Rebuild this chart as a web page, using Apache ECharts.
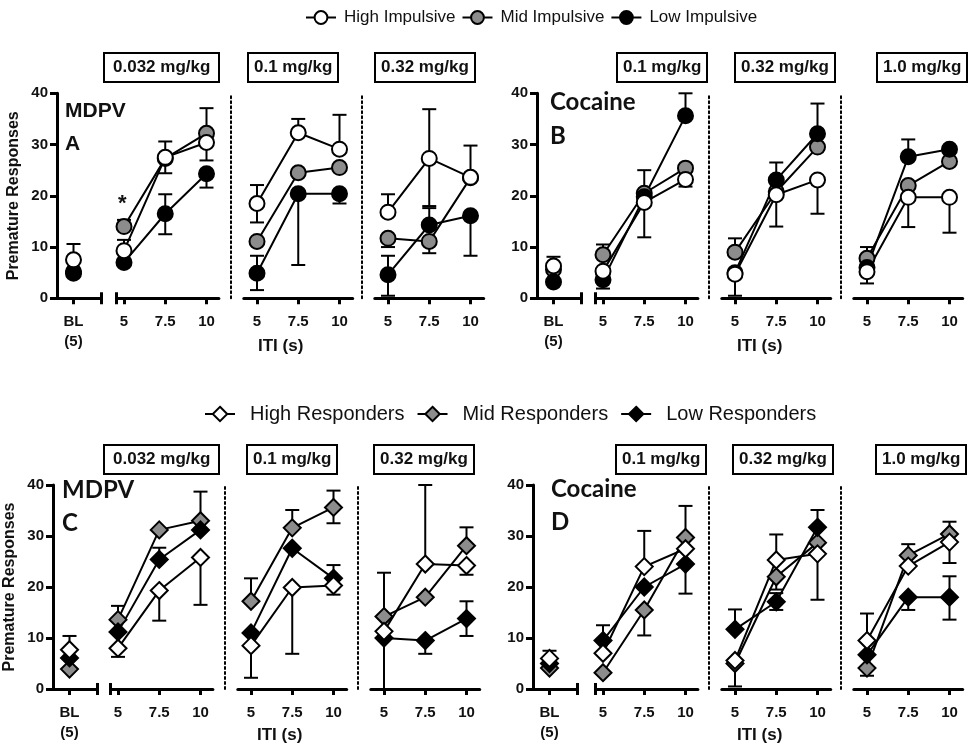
<!DOCTYPE html>
<html><head><meta charset="utf-8">
<script src="https://cdn.jsdelivr.net/npm/echarts@6/dist/echarts.min.js"></script>
<style>html,body{margin:0;padding:0;background:#fff}#c{width:975px;height:749px}</style>
</head><body><div id="c"></div>
<script>
// ---------------- DATA ----------------
const itiValues = [5, 7.5, 10];
const blTickLabel = 'BL\n(5)';
const itiAxisTitle = 'ITI (s)';
const yAxisTitle = 'Premature Responses';
const mdpvDoses = ['0.032 mg/kg', '0.1 mg/kg', '0.32 mg/kg'];
const cocaineDoses = ['0.1 mg/kg', '0.32 mg/kg', '1.0 mg/kg'];
const impulsiveNames = ['High Impulsive', 'Mid Impulsive', 'Low Impulsive'];
const responderNames = ['High Responders', 'Mid Responders', 'Low Responders'];

// each array: [BL, dose1@5, dose1@7.5, dose1@10, dose2@5, dose2@7.5, dose2@10, dose3@5, dose3@7.5, dose3@10]
// *_hi / *_lo : end of the upper / lower error whisker (null = not drawn)
// Panel A: MDPV, impulsivity groups
const A_high    = [7.5, 9.3, 27.5, 30.4, 18.5, 32.3, 29.1, 16.8, 27.3, 23.6];
const A_high_hi = [10.6, 11.4, 30.6, null, 22.1, 35.0, 35.8, 20.3, 36.9, 29.8];
const A_high_lo = [null, null, null, 26.9, 14.8, null, null, null, 18.0, null];
const A_mid     = [5.2, 14.0, 27.3, 32.2, 11.1, 24.5, 25.5, 11.7, 11.1, 23.5];
const A_mid_hi  = [null, 15.3, null, 37.1, null, null, null, null, null, null];
const A_mid_lo  = [null, null, 24.4, null, null, null, null, 10.0, 8.8, null];
const A_low     = [4.9, 7.0, 16.5, 24.3, 4.9, 20.4, 20.4, 4.6, 14.3, 16.1];
const A_low_hi  = [null, null, 20.3, null, 8.3, null, null, 8.3, 17.6, null];
const A_low_lo  = [null, null, 12.5, 21.6, 1.6, 6.5, 18.5, 0.5, null, 8.3];
// Panel B: Cocaine, impulsivity groups
const B_high    = [6.3, 5.3, 18.7, 23.2, 4.7, 20.2, 23.1, 5.2, 19.7, 19.7];
const B_high_hi = [8.1, null, null, null, null, null, null, null, null, null];
const B_high_lo = [null, null, 11.9, 21.8, 0.5, 14.0, 16.5, 2.9, 13.9, 12.8];
const B_mid     = [5.6, 8.5, 20.5, 25.4, 9.0, 20.8, 29.5, 7.8, 22.0, 26.7];
const B_mid_hi  = [null, 10.5, 25.0, null, 11.7, null, null, 10.0, null, null];
const B_mid_lo  = [null, null, null, null, null, null, null, null, null, null];
const B_low     = [3.2, 3.6, 19.8, 35.6, 5.0, 23.1, 32.1, 6.0, 27.6, 29.1];
const B_low_hi  = [null, null, null, 40.0, null, 26.5, 38.0, null, 31.0, null];
const B_low_lo  = [null, 1.9, null, null, null, null, null, null, null, null];
// Panel C: MDPV, responder groups
const C_high    = [7.7, 8.0, 19.3, 25.8, 8.5, 19.9, 20.3, 11.3, 24.5, 24.2];
const C_high_hi = [10.4, null, null, null, null, null, null, null, 40.0, null];
const C_high_lo = [null, 6.3, 13.4, 16.5, 2.2, 6.9, 18.5, null, null, 22.4];
const C_mid     = [3.9, 13.6, 31.2, 33.0, 17.2, 31.6, 35.6, 14.2, 18.0, 28.1];
const C_mid_hi  = [null, 16.3, null, 38.7, 21.7, 35.1, 38.9, 22.8, null, 31.7];
const C_mid_lo  = [null, null, null, null, null, null, 32.5, null, null, null];
const C_low     = [6.1, 11.2, 25.4, 31.2, 11.0, 27.6, 21.7, 10.0, 9.5, 13.8];
const C_low_hi  = [null, null, 27.7, null, null, null, 24.3, null, null, 17.2];
const C_low_lo  = [null, null, null, null, null, null, null, 0.0, 6.9, 10.4];
// Panel D: Cocaine, responder groups
const D_high    = [6.0, 7.0, 24.0, 27.5, 5.6, 25.3, 26.5, 9.5, 24.1, 28.8];
const D_high_hi = [7.5, null, 31.0, null, null, 30.3, null, 14.8, null, null];
const D_high_lo = [null, null, null, null, null, null, 17.5, null, null, 24.7];
const D_mid     = [4.1, 3.2, 15.5, 29.7, 5.0, 22.0, 28.7, 4.1, 26.2, 30.4];
const D_mid_hi  = [null, null, null, 35.9, null, null, null, null, 28.4, 32.8];
const D_mid_lo  = [null, null, 10.5, null, 0.5, 19.5, null, 2.6, null, null];
const D_low     = [5.0, 9.5, 20.0, 24.5, 11.7, 17.1, 31.7, 6.7, 18.0, 18.0];
const D_low_hi  = [null, 12.5, null, null, 15.6, 18.8, 35.1, null, null, 22.1];
const D_low_lo  = [null, null, null, 18.7, null, 15.5, null, null, 15.5, 13.6];

// ---------------- STYLE / LAYOUT ----------------
const FONT = '"Liberation Sans", Arial, Helvetica, sans-serif';
const FONT2 = 'Lato, Carlito, Calibri, sans-serif';
const INK = '#000';
const TXT = '#111';
const FILLS = ['#ffffff', '#8c8c8c', '#000000'];   // high, mid, low
const DRAW_ORDER = [1, 2, 0];                        // mid, low, high (high on top)
const PX_PER_UNIT = 16.5;
const ROWS = [
  { top: 93.3, h: 205, boxTop: 53, itiTop: 338 },
  { top: 485, h: 204, boxTop: 445, itiTop: 727 }
];
const PANELS = [
  { row: 0, drug: 'MDPV', letter: 'A', dFont: FONT, dSize: 21, dTop: 101, lTop: 134, tLeft: 65,
    doses: mdpvDoses, names: impulsiveNames, symbol: 'circle', size: 15,
    groups: [[A_high, A_high_hi, A_high_lo], [A_mid, A_mid_hi, A_mid_lo], [A_low, A_low_hi, A_low_lo]],
    blLeft: 57, x5: [124, 257, 388], boxLeft: [104, 248, 375], yName: true, itiLeft: 258 },
  { row: 0, drug: 'Cocaine', letter: 'B', dFont: FONT2, dSize: 24, dTop: 90, lTop: 124, tLeft: 550,
    doses: cocaineDoses, names: impulsiveNames, symbol: 'circle', size: 15,
    groups: [[B_high, B_high_hi, B_high_lo], [B_mid, B_mid_hi, B_mid_lo], [B_low, B_low_hi, B_low_lo]],
    blLeft: 537, x5: [603, 735, 867], boxLeft: [617, 735, 877], yName: false, itiLeft: 737 },
  { row: 1, drug: 'MDPV', letter: 'C', dFont: FONT2, dSize: 24, dTop: 478, lTop: 511, tLeft: 62,
    doses: mdpvDoses, names: responderNames, symbol: 'diamond', size: 17,
    groups: [[C_high, C_high_hi, C_high_lo], [C_mid, C_mid_hi, C_mid_lo], [C_low, C_low_hi, C_low_lo]],
    blLeft: 53, x5: [118, 251, 384], boxLeft: [104, 247, 374], yName: true, itiLeft: 257 },
  { row: 1, drug: 'Cocaine', letter: 'D', dFont: FONT2, dSize: 24, dTop: 477, lTop: 510, tLeft: 551,
    doses: cocaineDoses, names: responderNames, symbol: 'diamond', size: 17,
    groups: [[D_high, D_high_hi, D_high_lo], [D_mid, D_mid_hi, D_mid_lo], [D_low, D_low_hi, D_low_lo]],
    blLeft: 533, x5: [603, 735, 867], boxLeft: [616, 733, 876], yName: false, itiLeft: 737 }
];

// ---------------- BUILD ----------------
const grids = [], xAxes = [], yAxes = [], series = [], titles = [];
const tickLabel = { fontFamily: FONT, fontWeight: 'bold', fontSize: 15, color: TXT, lineHeight: 20, margin: 14 };

function errRender(params, api) {
  const x = api.value(0), y = api.value(1), e = api.value(2);
  const p0 = api.coord([x, y]), p1 = api.coord([x, e]);
  return { type: 'group', children: [
    { type: 'line', shape: { x1: p0[0], y1: p0[1], x2: p1[0], y2: p1[1] }, style: { stroke: INK, lineWidth: 2 } },
    { type: 'line', shape: { x1: p1[0] - 7, y1: p1[1], x2: p1[0] + 7, y2: p1[1] }, style: { stroke: INK, lineWidth: 2 } }
  ]};
}

function addGroupSeries(p, xIdx, yIdx, idxs, xs) {
  DRAW_ORDER.forEach(g => {
    const [vals, hi, lo] = p.groups[g];
    const err = [];
    idxs.forEach((k, j) => {
      if (hi[k] != null) err.push([xs[j], vals[k], hi[k]]);
      if (lo[k] != null) err.push([xs[j], vals[k], lo[k]]);
    });
    series.push({ type: 'custom', xAxisIndex: xIdx, yAxisIndex: yIdx, z: 2, silent: true,
      renderItem: errRender, encode: { x: 0, y: 1 }, data: err, clip: false });
  });
  DRAW_ORDER.forEach(g => {
    const vals = p.groups[g][0];
    series.push({ type: 'line', name: p.names[g], xAxisIndex: xIdx, yAxisIndex: yIdx, z: 3,
      data: idxs.map((k, j) => [xs[j], vals[k]]),
      symbol: p.symbol, symbolSize: p.size, showAllSymbol: true,
      itemStyle: { color: FILLS[g], borderColor: INK, borderWidth: 2, opacity: 1 },
      lineStyle: { color: INK, width: 2 },
      emphasis: { disabled: true }, animation: false });
  });
}

PANELS.forEach(p => {
  const r = ROWS[p.row];
  // ---- BL grid ----
  const blMin = -0.6, blMax = 1;
  let gi = grids.length;
  grids.push({ left: p.blLeft, top: r.top, width: 44, height: r.h });
  let xi = xAxes.length;
  xAxes.push({ type: 'value', gridIndex: gi, min: blMin, max: blMax, position: 'bottom',
    axisLine: { onZero: false, lineStyle: { color: INK, width: 3 } },
    axisTick: { customValues: [0, blMax], length: 6, lineStyle: { color: INK, width: 3 } },
    axisLabel: Object.assign({ customValues: [0], formatter: () => blTickLabel }, tickLabel),
    splitLine: { show: false } });
  xAxes.push({ type: 'value', gridIndex: gi, min: blMin, max: blMax, position: 'bottom',
    axisLine: { show: false, onZero: false }, axisLabel: { show: false }, splitLine: { show: false },
    axisTick: { inside: true, customValues: [blMax], length: 6, lineStyle: { color: INK, width: 3 } } });
  let yi = yAxes.length;
  yAxes.push({ type: 'value', gridIndex: gi, min: 0, max: 40, interval: 10, position: 'left',
    axisLine: { show: true, onZero: false, lineStyle: { color: INK, width: 3 } },
    axisTick: { show: true, length: 7, lineStyle: { color: INK, width: 3 } },
    axisLabel: { fontFamily: FONT, fontWeight: 'bold', fontSize: 15, color: TXT, margin: 9 },
    splitLine: { show: false },
    name: p.yName ? yAxisTitle : '', nameLocation: 'middle', nameGap: 35,
    nameTextStyle: { fontFamily: FONT, fontWeight: 'bold', fontSize: 16, color: TXT } });
  addGroupSeries(p, xi, yi, [0], [0]);

  // ---- dose grids ----
  for (let d = 0; d < 3; d++) {
    const first = d === 0;
    const xmin = first ? 4.55 : 4.2, xmax = first ? 10.75 : 10.8;
    gi = grids.length;
    grids.push({ left: p.x5[d] - (5 - xmin) * PX_PER_UNIT, top: r.top,
      width: (xmax - xmin) * PX_PER_UNIT, height: r.h });
    xi = xAxes.length;
    xAxes.push({ type: 'value', gridIndex: gi, min: xmin, max: xmax, position: 'bottom',
      axisLine: { onZero: false, lineStyle: { color: INK, width: 3 } },
      axisTick: { customValues: first ? [xmin].concat(itiValues) : itiValues, length: 6, lineStyle: { color: INK, width: 3 } },
      axisLabel: Object.assign({ customValues: itiValues, formatter: v => String(v) }, tickLabel),
      splitLine: { show: false } });
    if (first) {
      xAxes.push({ type: 'value', gridIndex: gi, min: xmin, max: xmax, position: 'bottom',
        axisLine: { show: false, onZero: false }, axisLabel: { show: false }, splitLine: { show: false },
        axisTick: { inside: true, customValues: [xmin], length: 6, lineStyle: { color: INK, width: 3 } } });
    }
    yi = yAxes.length;
    yAxes.push({ type: 'value', gridIndex: gi, min: 0, max: 40, offset: 13, position: 'left',
      axisLine: { show: !first, onZero: false, lineStyle: { color: INK, width: 2, type: [2, 3] } },
      axisTick: { show: false }, axisLabel: { show: false }, splitLine: { show: false } });
    addGroupSeries(p, xi, yi, [1 + d * 3, 2 + d * 3, 3 + d * 3], itiValues);

    titles.push({ text: p.doses[d], left: p.boxLeft[d], top: r.boxTop,
      padding: first && p.doses[d].length > 10 ? [5, 9, 5, 9] : [5, 6, 5, 6],
      borderColor: INK, borderWidth: 2,
      textStyle: { fontFamily: FONT, fontWeight: 'bold', fontSize: 17, color: TXT, lineHeight: 19 } });
  }
  titles.push({ text: p.drug, left: p.tLeft, top: p.dTop, padding: 0,
    textStyle: { fontFamily: p.dFont, fontWeight: 'bold', fontSize: p.dSize, color: TXT } });
  titles.push({ text: p.letter, left: p.tLeft, top: p.lTop, padding: 0,
    textStyle: { fontFamily: p.dFont, fontWeight: 'bold', fontSize: p.dSize, color: TXT } });
  titles.push({ text: itiAxisTitle, left: p.itiLeft, top: r.itiTop, padding: 0,
    textStyle: { fontFamily: FONT, fontWeight: 'bold', fontSize: 17, color: TXT } });
});
// significance marker (panel A, 0.032 mg/kg, ITI 5)
titles.push({ text: '*', left: 118, top: 193, padding: 0,
  textStyle: { fontFamily: FONT, fontWeight: 'bold', fontSize: 22, color: TXT } });

const option = {
  animation: false,
  backgroundColor: '#fff',
  title: titles,
  legend: [
    { data: impulsiveNames, left: 300, top: 4, itemWidth: 30, itemHeight: 16, itemGap: 6,
      selectedMode: false, textStyle: { fontFamily: FONT, fontSize: 17, color: TXT, padding: [0, 0, 0, 3] } },
    { data: responderNames, left: 199, top: 399, itemWidth: 30, itemHeight: 18, itemGap: 12,
      selectedMode: false, textStyle: { fontFamily: FONT, fontSize: 20, color: TXT, padding: [0, 0, 0, 10] } }
  ],
  grid: grids,
  xAxis: xAxes,
  yAxis: yAxes,
  series: series
};
const chart = echarts.init(document.getElementById('c'), null, { renderer: 'canvas' });
chart.setOption(option);
</script>
</body></html>
